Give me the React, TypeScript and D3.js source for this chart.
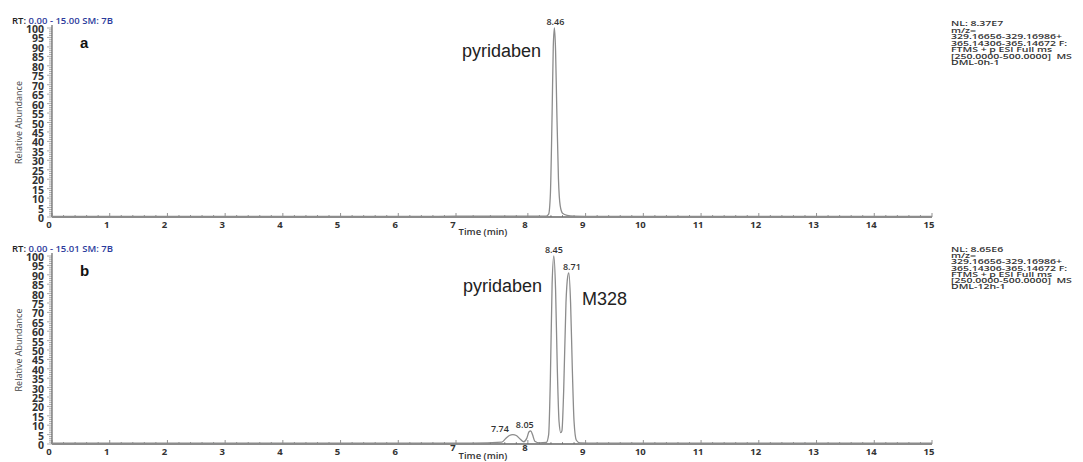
import { useEffect, useRef } from "react";
import * as d3 from "d3";

// tick labels
const xTickLabels = [0, 1, 2, 3, 4, 5, 6, 7, 8, 9, 10, 11, 12, 13, 14, 15];
const yTickLabels = [0, 5, 10, 15, 20, 25, 30, 35, 40, 45, 50, 55, 60, 65, 70, 75, 80, 85, 90, 95, 100];

// panel a: DML-0h-1
const traceATimes = [0, 2, 4, 6, 7, 7.7, 8.2, 8.32, 8.36, 8.39, 8.42, 8.44, 8.46, 8.48, 8.5, 8.53, 8.56, 8.6, 8.68, 8.8, 9.2, 11, 13, 15];
const traceAValues = [0.3, 0.3, 0.3, 0.3, 0.4, 0.5, 0.4, 0.5, 1.5, 12, 55, 90, 100, 88, 58, 20, 6, 2, 0.9, 0.5, 0.3, 0.3, 0.3, 0.3];

// panel b: DML-12h-1
const traceBTimes = [0, 2, 4, 6, 6.8, 7.2, 7.55, 7.62, 7.68, 7.74, 7.8, 7.87, 7.93, 7.98, 8.02, 8.05, 8.08, 8.12, 8.2, 8.32, 8.36, 8.39, 8.42, 8.45, 8.48, 8.51, 8.54, 8.57, 8.59, 8.62, 8.66, 8.69, 8.71, 8.74, 8.77, 8.8, 8.84, 8.9, 9.2, 11, 13, 15];
const traceBValues = [0.4, 0.4, 0.4, 0.4, 0.5, 0.5, 1, 3, 4.5, 5, 4.5, 2.5, 1.2, 3, 6.5, 7, 5, 1.5, 0.6, 0.8, 5, 35, 85, 100, 82, 40, 12, 6, 7, 28, 75, 89, 91, 75, 40, 12, 2, 0.6, 0.4, 0.4, 0.4, 0.4];

const peakLabelsA = [{ t: 8.46, v: 100, dx: 1, anchor: "middle" }];
const peakLabelsB = [
  { t: 7.74, v: 5, dx: -4, anchor: "end" },
  { t: 8.05, v: 7, dx: -6, anchor: "middle" },
  { t: 8.45, v: 100, dx: 0, anchor: "middle" },
  { t: 8.71, v: 91, dx: 3, anchor: "middle" },
];

const infoA = ["NL: 8.37E7", "m/z=", "329.16656-329.16986+", "365.14306-365.14672 F:", "FTMS + p ESI Full ms", "[250.0000-500.0000]  MS", "DML-0h-1"];
const infoB = ["NL: 8.65E6", "m/z=", "329.16656-329.16986+", "365.14306-365.14672 F:", "FTMS + p ESI Full ms", "[250.0000-500.0000]  MS", "DML-12h-1"];

const panels = [
  { top: 28, bottom: 217, letter: "a", rt: "0.00 - 15.00 SM: 7B", times: traceATimes, values: traceAValues, peaks: peakLabelsA, info: infoA, infoY: 26, infoStep: 8.7,
    titleDy: 18, raised: [] as number[],
    names: [{ text: "pyridaben", x: 462, y: 57 }] },
  { top: 256, bottom: 444, letter: "b", rt: "0.00 - 15.01 SM: 7B", times: traceBTimes, values: traceBValues, peaks: peakLabelsB, info: infoB, infoY: 252, infoStep: 8.3,
    titleDy: 15, raised: [7, 8],
    names: [{ text: "pyridaben", x: 463, y: 292 }, { text: "M328", x: 582, y: 305 }] },
];

const sans = "'Open Sans', 'DejaVu Sans', sans-serif";

export default function App() {
  const svgRef = useRef<SVGSVGElement>(null);

  useEffect(() => {
    if (!svgRef.current) return;
    const svg = d3.select(svgRef.current);
    svg.selectAll("*").remove();

    svg.append("rect").attr("width", 1083).attr("height", 462).attr("fill", "#fff");

    // time axis of the scanned figure is slightly uneven, use a polylinear scale
    const x = d3.scaleLinear().domain([0, 7, 7.5, 15]).range([52, 456, 499, 932]);

    panels.forEach((p) => {
      const y = d3.scaleLinear().domain([0, 100]).range([p.bottom, p.top]);
      const g = svg.append("g");

      // y ruler ticks
      const minor = d3.range(0, 101, 1);
      g.selectAll(".ymin")
        .data(minor)
        .enter()
        .append("line")
        .attr("x1", (d) => (d % 5 === 0 ? 47 : 49))
        .attr("x2", 52)
        .attr("y1", (d) => y(d))
        .attr("y2", (d) => y(d))
        .attr("stroke", "#8a8a8a")
        .attr("stroke-width", 0.7);

      g.append("line")
        .attr("x1", 52).attr("x2", 52)
        .attr("y1", p.top - 3).attr("y2", p.bottom)
        .attr("stroke", "#666").attr("stroke-width", 1.2);

      g.selectAll(".ylab")
        .data(yTickLabels)
        .enter()
        .append("text")
        .attr("x", 44)
        .attr("y", (d) => y(d) + 1)
        .attr("text-anchor", "end")
        .attr("dominant-baseline", "central")
        .attr("font-family", sans)
        .attr("font-weight", 700)
        .attr("font-size", 10.5)
        .attr("fill", "#333")
        .text((d) => d);

      // x axis
      const xMinor = d3.range(0, 15.01, 0.2);
      g.selectAll(".xmin")
        .data(xMinor)
        .enter()
        .append("line")
        .attr("x1", (d) => x(d))
        .attr("x2", (d) => x(d))
        .attr("y1", p.bottom)
        .attr("y2", (d) => (Math.abs(d - Math.round(d)) < 0.01 ? p.bottom - 4 : p.bottom - 2))
        .attr("stroke", "#777")
        .attr("stroke-width", 0.8);

      g.append("line")
        .attr("x1", 52).attr("x2", 932)
        .attr("y1", p.bottom).attr("y2", p.bottom)
        .attr("stroke", "#666").attr("stroke-width", 1.6);

      g.selectAll(".xlab")
        .data(xTickLabels)
        .enter()
        .append("text")
        .attr("x", (d) => x(d) - 3)
        .attr("y", (d) => p.bottom + (p.raised.includes(d) ? 7 : 11))
        .attr("text-anchor", "middle")
        .attr("font-family", sans)
        .attr("font-weight", 700)
        .attr("font-size", 9.5)
        .attr("fill", "#333")
        .text((d) => d);

      g.append("text")
        .attr("x", 483)
        .attr("y", p.bottom + p.titleDy)
        .attr("text-anchor", "middle")
        .attr("font-family", sans)
        .attr("font-weight", 600)
        .attr("font-size", 9.5)
        .attr("fill", "#333")
        .text("Time (min)");

      g.append("text")
        .attr("transform", `translate(22,${(p.top + p.bottom) / 2}) rotate(-90)`)
        .attr("text-anchor", "middle")
        .attr("font-family", sans)
        .attr("font-size", 9)
        .attr("fill", "#444")
        .text("Relative Abundance");

      // header
      const rt = g.append("text")
        .attr("x", 12)
        .attr("y", p.top - 4)
        .attr("font-family", sans)
        .attr("font-weight", 600)
        .attr("font-size", 9.5)
        .attr("fill", "#222");
      rt.append("tspan").text("RT: ");
      rt.append("tspan").attr("fill", "#2b3a9c").text(p.rt);

      g.append("text")
        .attr("x", 80)
        .attr("y", p.top + 20)
        .attr("font-family", "'Liberation Sans', Arial, sans-serif")
        .attr("font-weight", 700)
        .attr("font-size", 15)
        .attr("fill", "#111")
        .text(p.letter);

      // trace
      const line = d3
        .line<number>()
        .x((_, i) => x(p.times[i]))
        .y((d) => y(d))
        .curve(d3.curveMonotoneX);

      g.append("path")
        .datum(p.values)
        .attr("d", line)
        .attr("fill", "none")
        .attr("stroke", "#8c8c8c")
        .attr("stroke-width", 1.3);

      // peak labels
      g.selectAll(".pk")
        .data(p.peaks)
        .enter()
        .append("text")
        .attr("x", (d) => x(d.t) + d.dx)
        .attr("y", (d) => y(d.v) - 3)
        .attr("text-anchor", (d) => d.anchor)
        .attr("font-family", sans)
        .attr("font-weight", 600)
        .attr("font-size", 9)
        .attr("fill", "#333")
        .text((d) => d.t.toFixed(2));

      p.names.forEach((n) => {
        g.append("text")
          .attr("x", n.x)
          .attr("y", n.y)
          .attr("font-family", "'Liberation Sans', Arial, sans-serif")
          .attr("font-size", 18)
          .attr("fill", "#222")
          .text(n.text);
      });

      // info block on the right
      const info = g.append("g").attr("transform", `translate(951,${p.infoY}) scale(1,0.75)`);
      info.selectAll("text")
        .data(p.info)
        .enter()
        .append("text")
        .attr("x", 0)
        .attr("y", (_, i) => i * p.infoStep)
        .attr("font-family", sans)
        .attr("font-weight", 600)
        .attr("font-size", 10.5)
        .attr("fill", "#333")
        .attr("xml:space", "preserve")
        .text((d) => d);
    });
  }, []);

  return (
    <svg
      ref={svgRef}
      width={1083}
      height={462}
      style={{ position: "absolute", left: 0, top: 0 }}
    />
  );
}
